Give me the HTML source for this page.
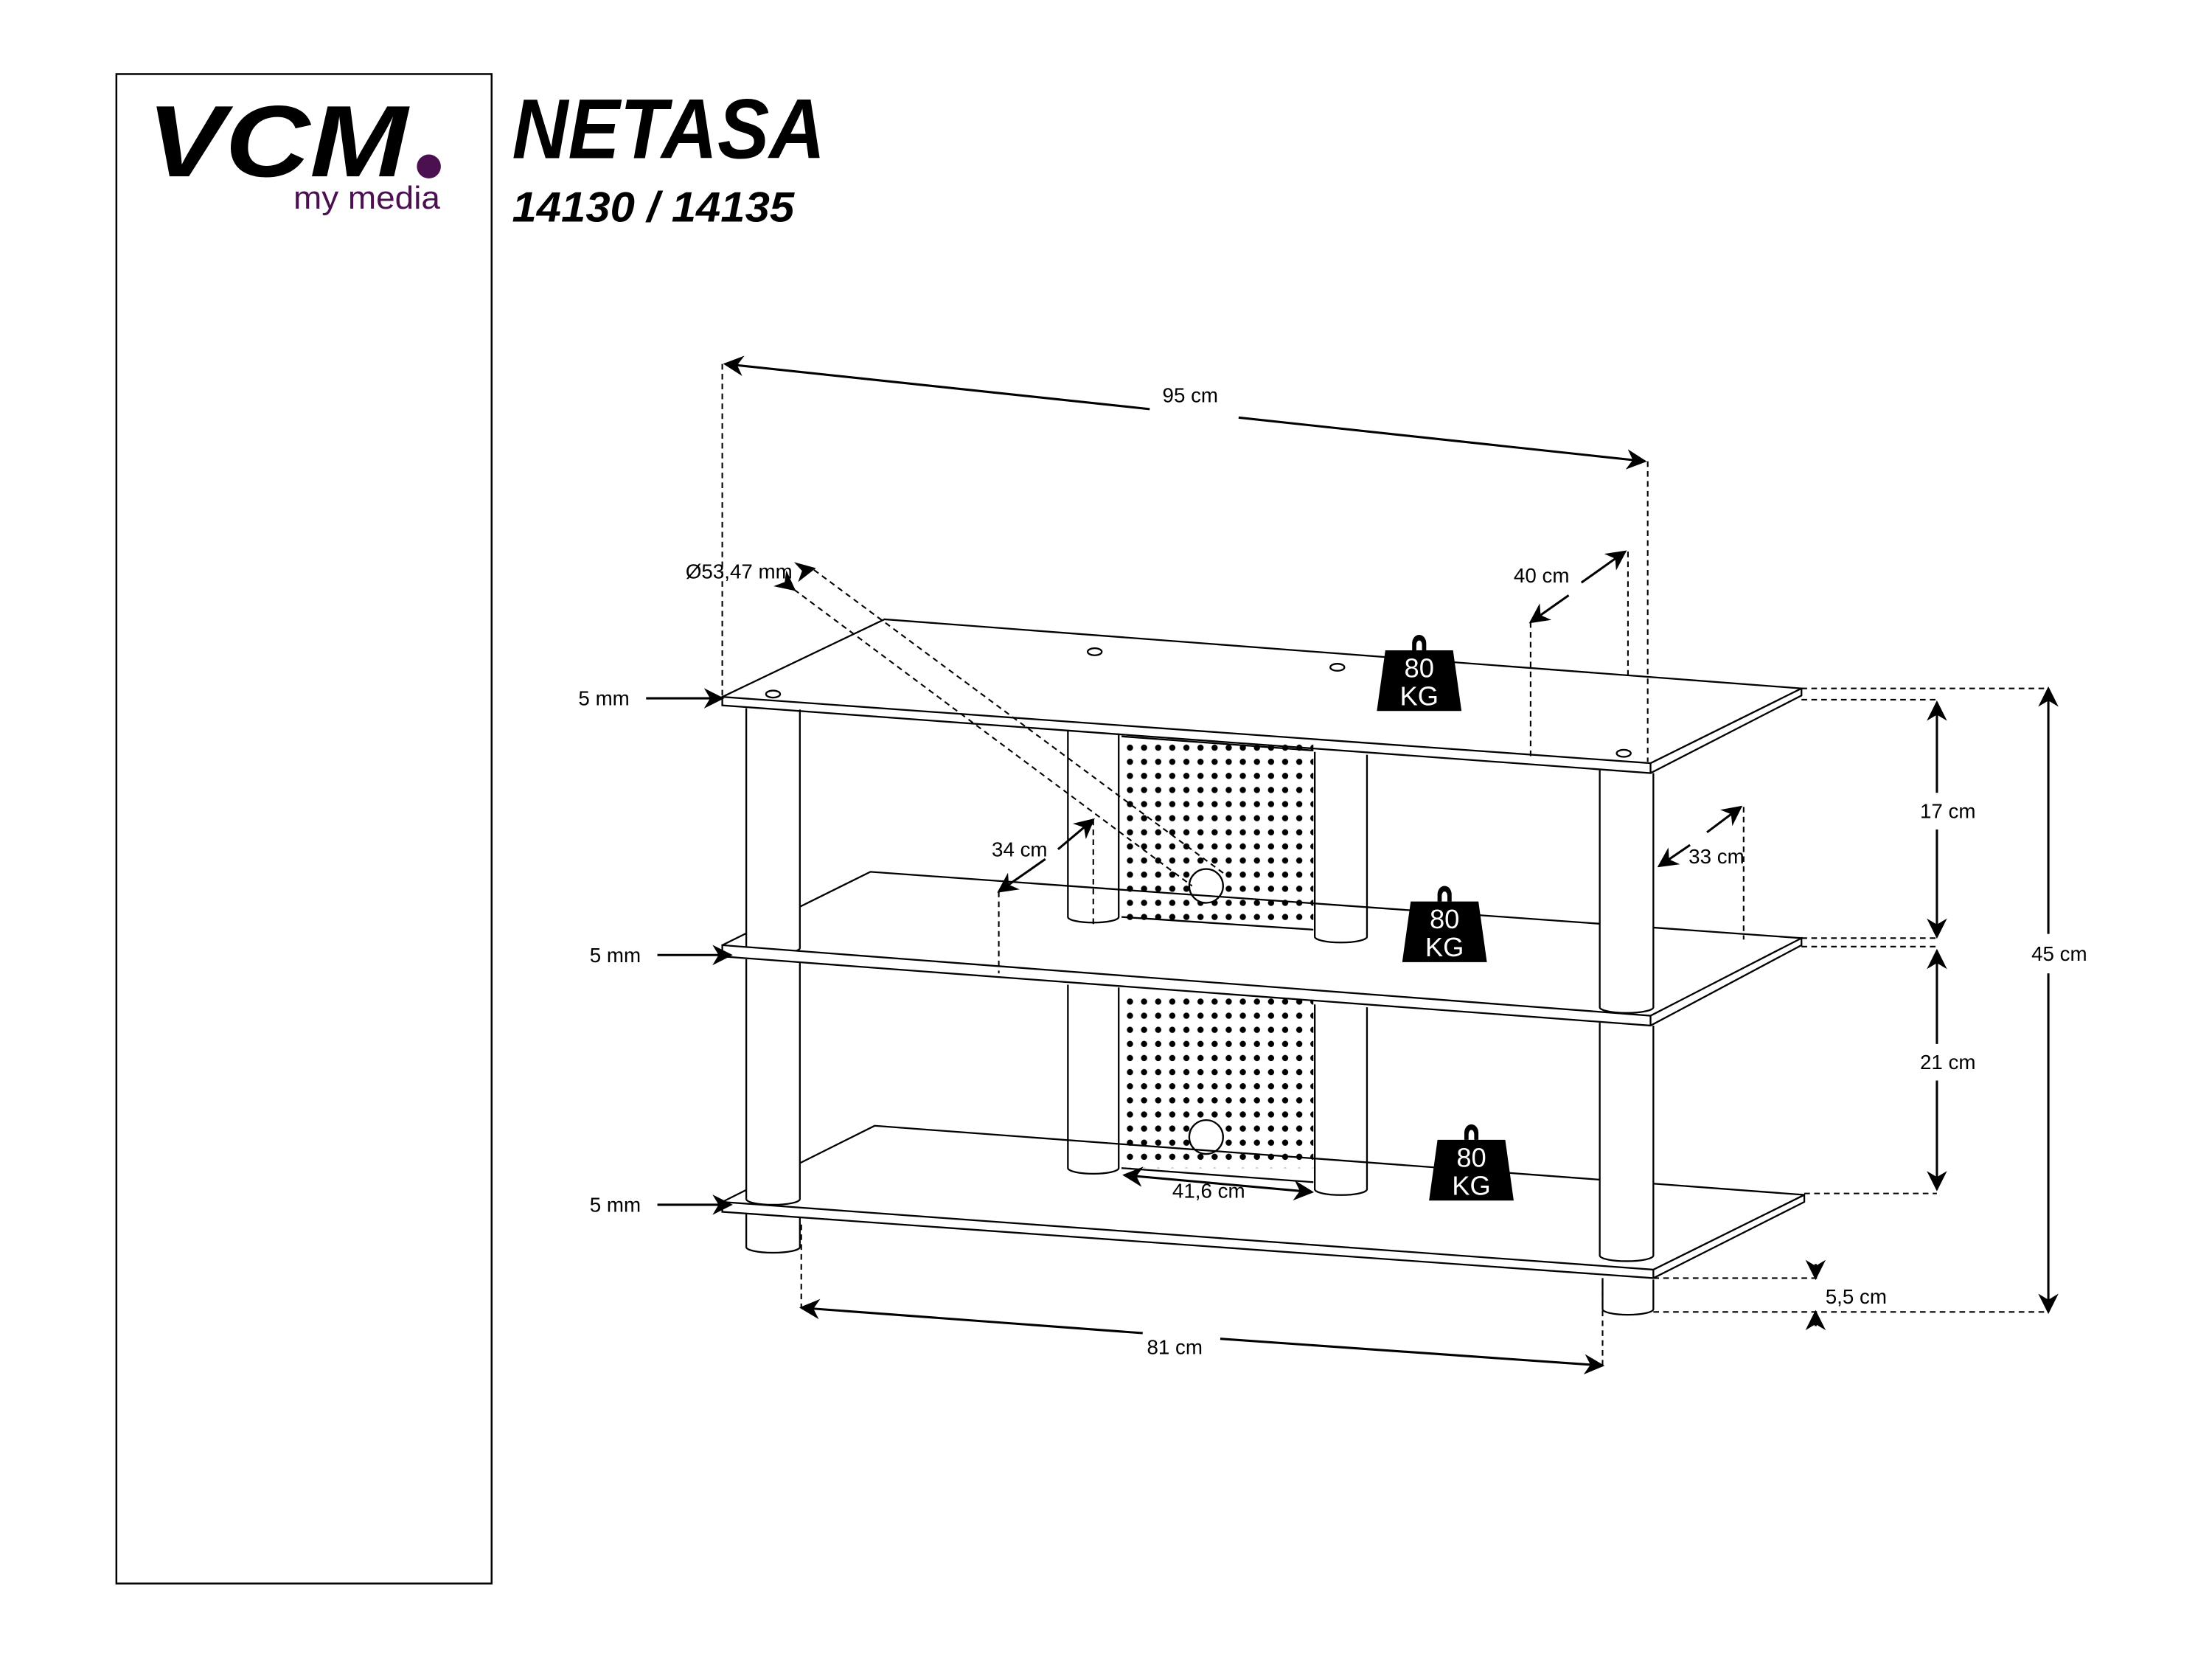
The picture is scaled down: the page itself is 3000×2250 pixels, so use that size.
<!DOCTYPE html>
<html><head><meta charset="utf-8"><style>
html,body{margin:0;padding:0;background:#fff}
svg{display:block}
text{font-family:"Liberation Sans",sans-serif}
</style></head><body>
<svg width="3000" height="2250" viewBox="0 0 1568 1176" xmlns="http://www.w3.org/2000/svg">
<defs>
<marker id="a" viewBox="0 0 10 10" refX="9" refY="5" markerWidth="9" markerHeight="9" orient="auto-start-reverse"><path d="M0,0 L10,5 L0,10 L3,5 z" fill="#000"/></marker>
<pattern id="dots" x="798" y="527" width="10" height="10" patternUnits="userSpaceOnUse"><circle cx="3" cy="3" r="2.2" fill="#000"/></pattern>
<g id="wt"><path d="M-5,-18 a5,6 0 0 1 10,0 v5 h-3 v-4 a2,3 0 0 0 -4,0 v4 h-3z" fill="#000"/><path d="M-24,-13 H24 L30,30 H-30z" fill="#000"/><text x="0" y="6" font-size="19" fill="#fff" text-anchor="middle">80</text><text x="0" y="26" font-size="19" fill="#fff" text-anchor="middle">KG</text></g>
</defs>
<rect x="82.5" y="52.5" width="266" height="1070" fill="none" stroke="#000" stroke-width="1.3"/>
<text x="104" y="125" font-size="72" font-weight="bold" font-style="italic" textLength="185" lengthAdjust="spacingAndGlyphs">VCM</text>
<circle cx="304" cy="118" r="8.5" fill="#4a1050"/>
<text x="208" y="148" font-size="23" fill="#4a1050" textLength="104" lengthAdjust="spacingAndGlyphs">my media</text>
<text x="363" y="112" font-size="60" font-weight="bold" font-style="italic" textLength="222" lengthAdjust="spacingAndGlyphs">NETASA</text>
<text x="363" y="157" font-size="30" font-weight="bold" font-style="italic" textLength="200" lengthAdjust="spacingAndGlyphs">14130 / 14135</text>

<g fill="#fff" stroke="#000" stroke-width="1.2">
<rect x="795" y="527" width="136" height="127" fill="url(#dots)" stroke="none"/>
<path d="M795,522 L931,532 M795,650 L931,659" />
<rect x="795" y="705" width="136" height="123" fill="url(#dots)" stroke="none"/>
<path d="M795,828 L931,838"/>
<circle cx="855" cy="628" r="12"/>
<circle cx="855" cy="806" r="12"/>
<path d="M757,518 V650 a18,4 0 0 0 36,0 V520"/>
<path d="M932,533 V664 a18,4 0 0 0 37,0 V535"/>
<path d="M757,698 V828 a18,4 0 0 0 36,0 V700"/>
<path d="M932,712 V843 a18,4 0 0 0 37,0 V714"/>
<path d="M512,670 L617,618 L1277,665" fill="none"/>
<path d="M512,852 L620,798 L1279,847" fill="none"/>
<path d="M529,502 V672 a19,4 0 0 0 38,0 V503"/>
<path d="M529,680 V850 a19,4 0 0 0 38,0 V681"/>
<path d="M529,860 V884 a19,4 0 0 0 38,0 V861"/>
<path d="M1134,546 V714 a19,4 0 0 0 38,0 V548"/>
<path d="M1134,725 V890 a19,4 0 0 0 38,0 V727"/>
<path d="M1136,906 V928 a18,4 0 0 0 36,0 V907"/>
<path d="M512,494 L627,439 L1277,488 L1170,541 Z"/>
<path d="M512,494 V500 L1170,548 V541 M1170,548 L1277,493 V488" fill="none"/>
<path d="M512,670 L1170,720 L1277,665 V670 L1170,727 L512,678 Z"/>
<path d="M1170,720 V727" fill="none"/>
<path d="M512,852 L1172,900 L1279,847 V852 L1172,906 L512,859 Z"/>
<path d="M1172,900 V906" fill="none"/>
<ellipse cx="548" cy="492" rx="5" ry="2.5"/><ellipse cx="776" cy="462" rx="5" ry="2.5"/><ellipse cx="948" cy="473" rx="5" ry="2.5"/><ellipse cx="1151" cy="534" rx="5" ry="2.5"/>
</g>
<use href="#wt" x="1006" y="474"/>
<use href="#wt" x="1024" y="652"/>
<use href="#wt" x="1043" y="821"/>

<g fill="none" stroke="#000" stroke-width="1.1" stroke-dasharray="4,3">
<path d="M512,258 V494 M1168,327 V540 M1085,441 V537 M1154,391 V480 M708,632 V690 M775,581 V655 M1236,572 V666"/>
<path d="M1277,488 H1452 M1277,496 H1373 M1277,665 H1373 M1277,671 H1373 M1279,846 H1373 M1172,930 H1452 M1172,906 H1290 M568,868 V927 M1136,908 V968"/>
<path d="M577,404 L870,621 M563,418 L845,628"/>
</g>
<g fill="none" stroke="#000" stroke-width="1.6">
<path d="M514,258 L815,290" marker-start="url(#a)"/><path d="M878,296 L1166,327" marker-end="url(#a)"/>
<path d="M1121,413 L1152,391" marker-end="url(#a)"/><path d="M1112,422 L1085,441" marker-end="url(#a)"/>
<path d="M750,602 L775,581" marker-end="url(#a)"/><path d="M741,609 L708,632" marker-end="url(#a)"/>
<path d="M1210,590 L1234,572" marker-end="url(#a)"/><path d="M1198,599 L1176,614" marker-end="url(#a)"/>
<path d="M1373,562 V498" marker-end="url(#a)"/><path d="M1373,588 V664" marker-end="url(#a)"/>
<path d="M1373,740 V674" marker-end="url(#a)"/><path d="M1373,766 V843" marker-end="url(#a)"/>
<path d="M1452,662 V488" marker-end="url(#a)"/><path d="M1452,690 V930" marker-end="url(#a)"/>
<path d="M797,833 L930,845" marker-start="url(#a)" marker-end="url(#a)"/>
<path d="M568,927 L810,945" marker-start="url(#a)"/><path d="M865,949 L1136,968" marker-end="url(#a)"/>
<path d="M458,495 H512" marker-end="url(#a)"/><path d="M466,677 H518" marker-end="url(#a)"/><path d="M466,854 H518" marker-end="url(#a)"/>
<path d="M1287,896 V906" marker-end="url(#a)"/><path d="M1287,940 V930" marker-end="url(#a)"/>
<path d="M572,404 L577,403" marker-end="url(#a)"/><path d="M558,414 L563,418" marker-end="url(#a)"/>
</g>
<g font-size="14.5" fill="#000">
<text x="824" y="285">95 cm</text>
<text x="1073" y="413">40 cm</text>
<text x="486" y="410">Ø53,47 mm</text>
<text x="703" y="607">34 cm</text>
<text x="1197" y="612">33 cm</text>
<text x="1361" y="580">17 cm</text>
<text x="1361" y="758">21 cm</text>
<text x="1440" y="681">45 cm</text>
<text x="1294" y="924">5,5 cm</text>
<text x="813" y="960">81 cm</text>
<text x="831" y="849">41,6 cm</text>
<text x="410" y="500">5 mm</text>
<text x="418" y="682">5 mm</text>
<text x="418" y="859">5 mm</text>
</g>
</svg>
</body></html>
